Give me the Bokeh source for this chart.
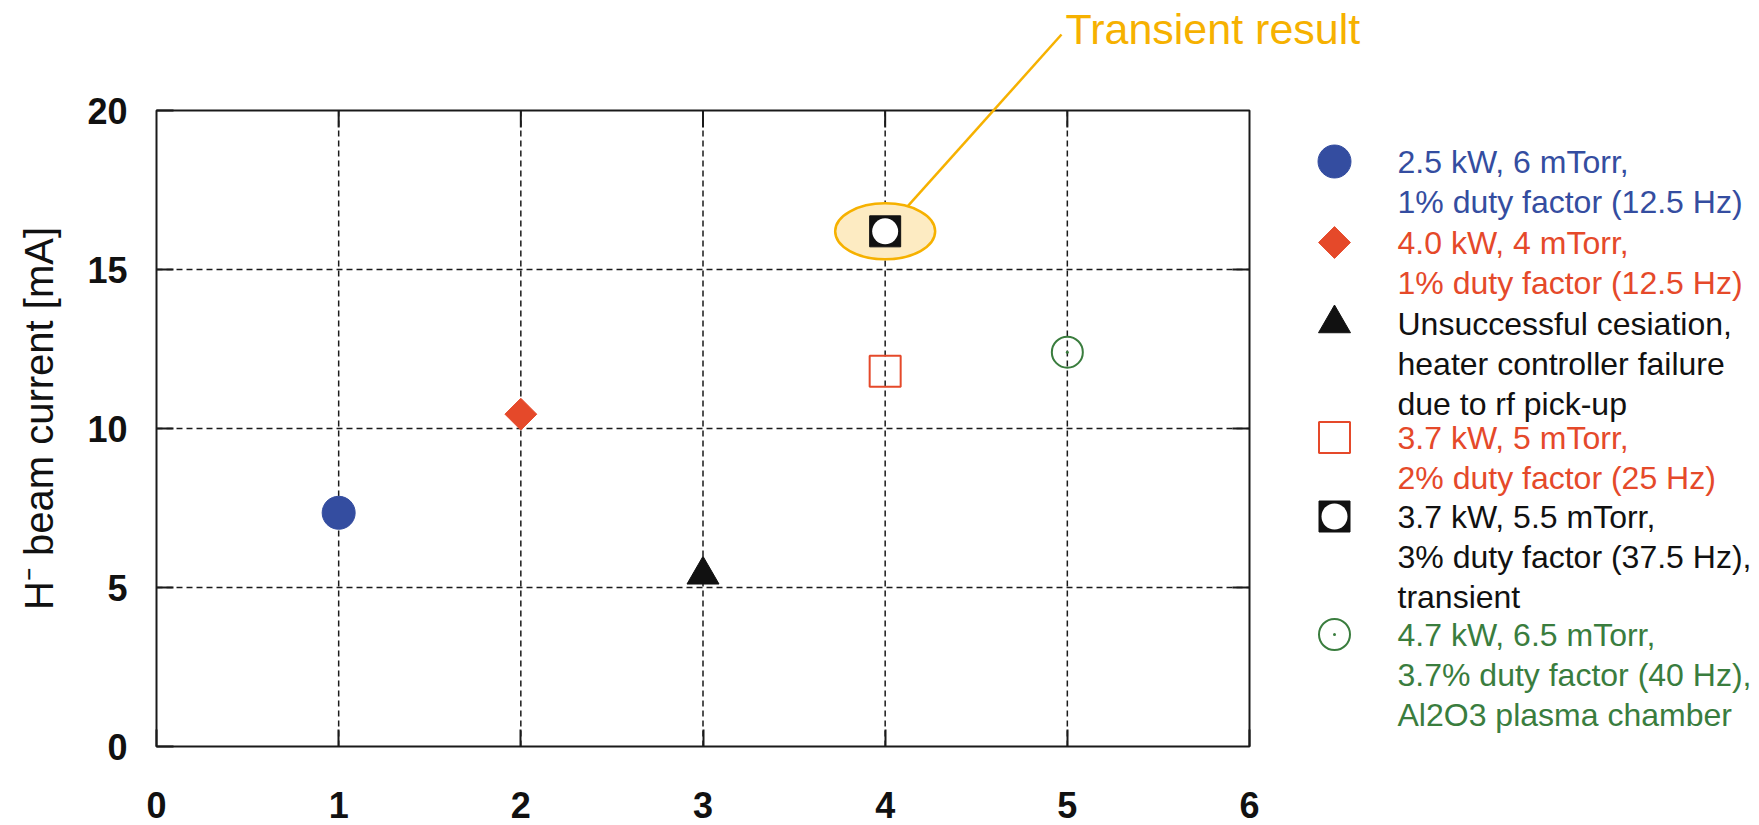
import math
from bokeh.plotting import figure
from bokeh.models import Range1d, FixedTicker, ColumnDataSource
from bokeh.core.properties import value
from bokeh.embed import file_html
from bokeh.resources import INLINE

# ---------------- data ----------------
series_labels = [
    "2.5 kW, 6 mTorr,\n1% duty factor (12.5 Hz)",
    "4.0 kW, 4 mTorr,\n1% duty factor (12.5 Hz)",
    "Unsuccessful cesiation,\nheater controller failure\ndue to rf pick-up",
    "3.7 kW, 5 mTorr,\n2% duty factor (25 Hz)",
    "3.7 kW, 5.5 mTorr,\n3% duty factor (37.5 Hz),\ntransient",
    "4.7 kW, 6.5 mTorr,\n3.7% duty factor (40 Hz),\nAl2O3 plasma chamber",
]
run_x = [1, 2, 3, 4, 4, 5]
current_y = [7.35, 10.45, 5.4, 11.8, 16.2, 12.4]
series_colors = ["#344da0", "#e5492a", "#111111", "#e5492a", "#111111", "#3a7d3e"]
x_ticks = [0, 1, 2, 3, 4, 5, 6]
y_ticks = [0, 5, 10, 15, 20]
x_limits = (0, 6)
y_limits = (0, 20)
y_axis_title = "H\u207b beam current [mA]"
annotation_text = "Transient result"
annotated_index = 4

# ---------------- layout (canvas pixels) ----------------
W, H = 1756, 824
box_left_px, box_right_px = 156, 1249
box_top_px, box_bottom_px = 110, 746
px_per_x = (box_right_px - box_left_px) / (x_limits[1] - x_limits[0])
px_per_y = (box_bottom_px - box_top_px) / (y_limits[1] - y_limits[0])


def px_x(px):
    return x_limits[0] + (px - box_left_px) / px_per_x


def px_y(py):
    return y_limits[0] + (box_bottom_px - py) / px_per_y


FONT = "Liberation Sans"
ORANGE = "#f6b100"
ELLIPSE_FILL = "#fdebc2"
INK = "#1a1a1a"
TICK_PX = 17

legend_marker_px = 1334
legend_text_px = 1397
legend_item_py = [161, 242, 323, 437, 516, 634]
legend_line_px = 40.4

marker_styles = [
    [dict(marker="circle", size=33, fill_color="#344da0", line_color="#344da0")],
    [dict(marker="square", size=22.5, angle=math.pi / 4, fill_color="#e5492a", line_color="#e5492a")],
    [dict(marker="triangle", size=32, fill_color="#111111", line_color="#111111")],
    [dict(marker="square", size=31, fill_color=None, line_color="#e5492a", line_width=2)],
    [dict(marker="square", size=31, fill_color="#111111", line_color="#111111"),
     dict(marker="circle", size=26, fill_color="white", line_color=None)],
    [dict(marker="circle", size=31, fill_color=None, line_color="#3a7d3e", line_width=2),
     dict(marker="circle", size=3, fill_color="#3a7d3e", line_color=None)],
]

p = figure(
    width=W, height=H, output_backend="svg", toolbar_location=None,
    x_range=Range1d(px_x(0), px_x(W)),
    y_range=Range1d(px_y(H), px_y(0)),
    min_border_left=0, min_border_right=0, min_border_top=0, min_border_bottom=0,
)
p.title.visible = False
p.outline_line_color = None
p.grid.visible = False
p.background_fill_color = "white"
p.border_fill_color = "white"

for ax, ticks in ((p.xaxis, x_ticks), (p.yaxis, y_ticks)):
    ax.ticker = FixedTicker(ticks=ticks)
    ax.axis_line_color = None
    ax.major_tick_in = TICK_PX
    ax.major_tick_out = 0
    ax.minor_tick_line_color = None
    ax.major_tick_line_color = INK
    ax.major_tick_line_width = 2
    ax.major_label_text_font = FONT
    ax.major_label_text_font_size = "36px"
    ax.major_label_text_font_style = "bold"
    ax.major_label_text_color = "#111111"
p.xaxis.fixed_location = y_limits[0]
p.yaxis.fixed_location = x_limits[0]
p.xaxis.major_label_standoff = 45
p.yaxis.major_label_standoff = 29

# dashed grid
gx = x_ticks[1:-1]
p.segment(x0=gx, y0=[y_limits[0]] * len(gx), x1=gx, y1=[y_limits[1]] * len(gx),
          line_color=INK, line_width=1.5, line_dash="6 4")
gy = y_ticks[1:-1]
p.segment(x0=[x_limits[0]] * len(gy), y0=gy, x1=[x_limits[1]] * len(gy), y1=gy,
          line_color=INK, line_width=1.5, line_dash="6 4")

# inward ticks on top and right edges
p.segment(x0=gx, y0=[y_limits[1]] * len(gx), x1=gx,
          y1=[y_limits[1] - TICK_PX / px_per_y] * len(gx), line_color=INK, line_width=2)
p.segment(x0=[x_limits[1]] * len(gy), y0=gy,
          x1=[x_limits[1] - TICK_PX / px_per_x] * len(gy), y1=gy, line_color=INK, line_width=2)

# box
p.quad(left=[x_limits[0]], right=[x_limits[1]], bottom=[y_limits[0]], top=[y_limits[1]],
       fill_color=None, line_color=INK, line_width=2)

# annotation: ellipse + leader line + text
ax_, ay_ = run_x[annotated_index], current_y[annotated_index]
ELL_W, ELL_H = 100, 56
p.ellipse(x=[ax_], y=[ay_], width=ELL_W, height=ELL_H, width_units="screen",
          height_units="screen", fill_color=ELLIPSE_FILL, line_color=ORANGE, line_width=2.5)
cpx = box_left_px + (ax_ - x_limits[0]) * px_per_x
cpy = box_bottom_px - (ay_ - y_limits[0]) * px_per_y
end_px, end_py = 1061, 34
dx, dy = end_px - cpx, end_py - cpy
t = 1.0 / math.sqrt((dx / (ELL_W / 2)) ** 2 + (dy / (ELL_H / 2)) ** 2)
p.segment(x0=[px_x(cpx + dx * t)], y0=[px_y(cpy + dy * t)], x1=[px_x(end_px)], y1=[px_y(end_py)],
          line_color=ORANGE, line_width=2.5)
p.text(x=[px_x(1065)], y=[px_y(28)], text=[annotation_text], text_font=value(FONT),
       text_font_size="43px", text_color=ORANGE, text_align="left", text_baseline="middle")


def draw_marker(xs, ys, styles):
    for st in styles:
        p.scatter(x=xs, y=ys, **st)


for i in range(len(run_x)):
    draw_marker([run_x[i]], [current_y[i]], marker_styles[i])

# legend
lx, ly, lt, lc = [], [], [], []
for i, label in enumerate(series_labels):
    draw_marker([px_x(legend_marker_px)], [px_y(legend_item_py[i])], marker_styles[i])
    for j, line in enumerate(label.split("\n")):
        lx.append(px_x(legend_text_px))
        ly.append(px_y(legend_item_py[i] + j * legend_line_px))
        lt.append(line)
        lc.append(series_colors[i])
src = ColumnDataSource(dict(x=lx, y=ly, text=lt, color=lc))
p.text(x="x", y="y", text="text", text_color="color", source=src, text_font=value(FONT),
       text_font_size="32px", text_align="left", text_baseline="middle")

# y axis title
p.text(x=[px_x(38)], y=[px_y(418)], text=[y_axis_title], angle=math.pi / 2,
       text_align="center", text_baseline="middle", text_font=value(FONT),
       text_font_size="40px", text_color="#111111")

open("out.html", "w").write(file_html(p, INLINE))
